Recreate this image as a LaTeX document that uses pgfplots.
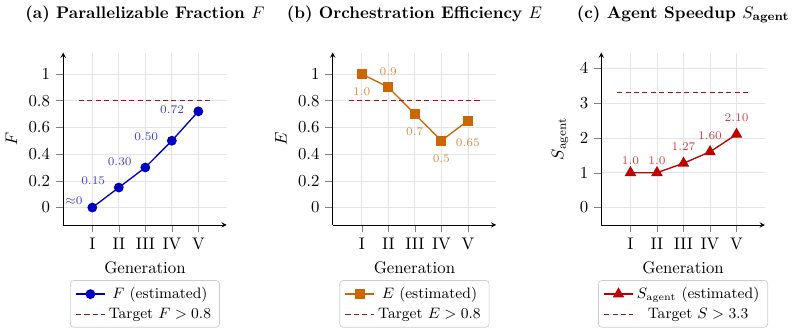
\documentclass[border=0pt]{standalone}
\usepackage{pgfplots}
\pgfplotsset{compat=1.18}
\usepackage{pgfplotstable}
\usepackage{amsmath}
\definecolor{cblue}{RGB}{0,0,190}
\definecolor{corange}{RGB}{204,102,0}
\definecolor{cred}{RGB}{190,0,0}
\definecolor{ctarget}{RGB}{160,20,30}

\pgfplotsset{
  panel/.style={
    scale only axis, width=97.4pt, height=102.7pt,
    axis lines=left,
    xmin=-0.1, xmax=6.07,
    xtick={1,2,3,4,5}, xticklabels={I,II,III,IV,V},
    grid=major, grid style={gray!20, line width=0.4pt},
    tick align=outside,
    xlabel={Generation},
    title style={font=\bfseries, yshift=8pt},
    legend style={at={(0.5,-0.32)}, anchor=north, font=\small, draw=gray!40, rounded corners=2pt},
    legend cell align=center,
  },
  labelled/.style={
    nodes near coords, point meta=explicit symbolic,
    visualization depends on={value \thisrow{anc}\as\myanc},
    visualization depends on={value \thisrow{dx}\as\mydx},
    visualization depends on={value \thisrow{dy}\as\mydy},
    every node near coord/.append style={font=\scriptsize, text=#1!75, anchor=\myanc, xshift=\mydx pt, yshift=\mydy pt},
  },
  target/.style={ctarget, thick, dash pattern=on 3pt off 2pt},
}

\begin{document}
\begin{tikzpicture}
% (a)
\begin{axis}[panel, at={(0pt,0pt)},
  title={(a) Parallelizable Fraction $F$},
  ylabel={$F$},
  ymin=-0.13, ymax=1.16, ytick={0,0.2,0.4,0.6,0.8,1}]
\addplot[cblue, thick, mark=*, mark size=2.5pt, labelled=cblue] table[x=x, y=y, meta=lab] {
x y lab anc dx dy
1 0 {$\approx$0} east -2.1 4
2 0.15 0.15 east -4.4 4
3 0.30 0.30 east -4.4 3.5
4 0.50 0.50 east -4.4 2.4
5 0.72 0.72 east -4.8 0.8
};
\addlegendentry{$F$ (estimated)}
\addplot[target] coordinates {(0.5,0.8) (5.5,0.8)};
\addlegendentry{Target $F>0.8$}
\end{axis}
% (b)
\begin{axis}[panel, at={(160.5pt,0pt)},
  title={(b) Orchestration Efficiency $E$},
  ylabel={$E$},
  ymin=-0.13, ymax=1.16, ytick={0,0.2,0.4,0.6,0.8,1}]
\addplot[corange, thick, mark=square*, mark size=2.5pt, labelled=corange] table[x=x, y=y, meta=lab] {
x y lab anc dx dy
1 1.0 1.0 north 0 -4.7
2 0.9 0.9 south 0 3.4
3 0.7 0.7 north 0 -4.6
4 0.5 0.5 north 0 -4.6
5 0.65 0.65 north 0 -7
};
\addlegendentry{$E$ (estimated)}
\addplot[target] coordinates {(0.5,0.8) (5.5,0.8)};
\addlegendentry{Target $E>0.8$}
\end{axis}
% (c)
\begin{axis}[panel, at={(320.5pt,0pt)},
  title={(c) Agent Speedup $S_{\text{agent}}$},
  ylabel={$S_{\text{agent}}$},
  ymin=-0.5, ymax=4.45, ytick={0,1,2,3,4}]
\addplot[cred, thick, mark=triangle*, mark size=3.2pt, labelled=cred] table[x=x, y=y, meta=lab] {
x y lab anc dx dy
1 1.0 1.0 south 0 1
2 1.0 1.0 south 0 1
3 1.27 1.27 south 0 4
4 1.60 1.60 south 0 3.4
5 2.10 2.10 south 0 4
};
\addlegendentry{$S_{\text{agent}}$ (estimated)}
\addplot[target] coordinates {(0.5,3.3) (5.5,3.3)};
\addlegendentry{Target $S>3.3$}
\end{axis}
\path (-34.8pt,-63.7pt) rectangle (434.2pt,133.3pt);
\end{tikzpicture}
\end{document}
